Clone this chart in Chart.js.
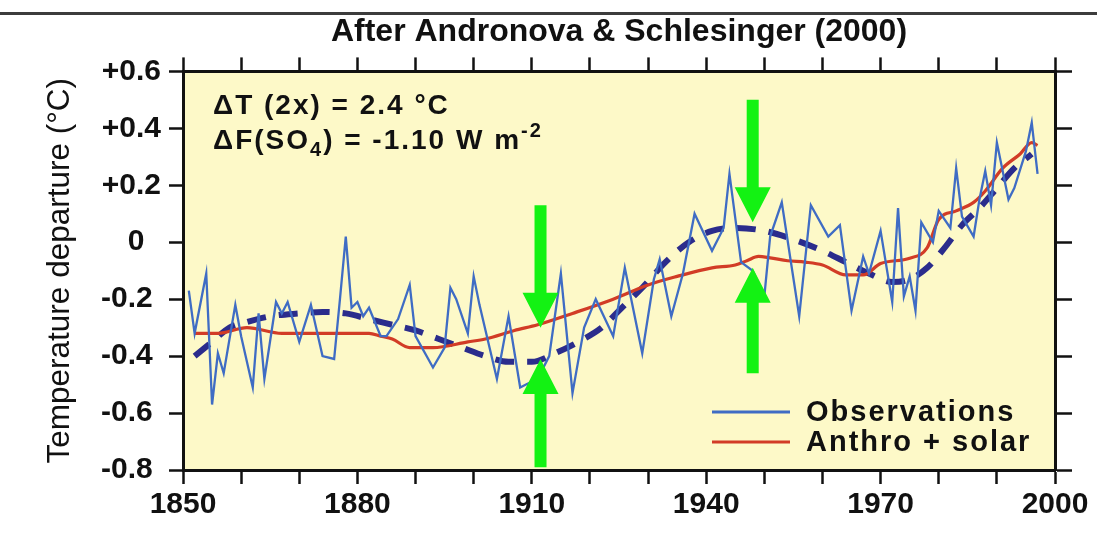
<!DOCTYPE html>
<html>
<head>
<meta charset="utf-8">
<script src="https://cdn.jsdelivr.net/npm/chart.js@4.4.1/dist/chart.umd.min.js"></script>
<style>
  html, body { margin: 0; padding: 0; background: #ffffff; }
  #wrap { width: 1097px; height: 538px; position: relative; }
</style>
</head>
<body>
<div id="wrap"><canvas id="c"></canvas></div>
<script>
// Observed global temperature departures (°C)
const obsYears = [1851,1852,1854,1855,1856,1857,1859,1860,1862,1863,1864,1866,1867,1868,1870,1872,1874,1876,1877,1878,1879,
  1880,1881,1882,1884,1885,1887,1889,1890,1893,1895,1896,1897,1899,1900,1901,1904,1906,1908,1909,1911,1913,1915,1917,1919,
  1921,1924,1926,1929,1931,1932,1934,1936,1938,1941,1943,1944,1946,1948,1950,1951,1953,1956,1958,1961,1963,1965,1967,1968,
  1970,1972,1973,1974,1975,1976,1977,1979,1980,1982,1983,1984,1986,1987,1988,1989,1990,1992,1993,1995,1996,1997];
const obsValues = [-0.17,-0.32,-0.11,-0.57,-0.39,-0.46,-0.22,-0.33,-0.51,-0.25,-0.48,-0.21,-0.25,-0.21,-0.35,-0.22,-0.40,-0.41,-0.20,0.02,-0.23,
  -0.21,-0.26,-0.23,-0.33,-0.33,-0.27,-0.15,-0.33,-0.44,-0.37,-0.16,-0.20,-0.32,-0.12,-0.22,-0.48,-0.26,-0.51,-0.50,-0.48,-0.40,-0.11,-0.53,-0.30,
  -0.20,-0.33,-0.09,-0.39,-0.13,-0.06,-0.26,-0.11,0.10,-0.03,0.05,0.24,-0.07,-0.10,-0.19,0.02,0.14,-0.26,0.13,0.02,0.06,-0.24,-0.05,-0.11,
  0.04,-0.21,0.12,-0.19,-0.12,-0.24,0.07,0.00,0.11,0.05,0.26,0.09,0.02,0.15,0.25,0.13,0.35,0.15,0.19,0.32,0.42,0.24];

// Simulated response: anthropogenic + solar forcing
const modelYears = [1852,1856,1861,1867,1873,1878,1882,1884,1886,1889,1893,1899,1902,1907,1911,1917,1924,1930,1935,1941,1945,
  1947,1949,1951,1954,1957,1960,1964,1967,1970,1975,1978,1980,1983,1986,1988,1991,1994,1996,1997];
const modelValues = [-0.32,-0.32,-0.30,-0.32,-0.32,-0.32,-0.32,-0.33,-0.34,-0.37,-0.37,-0.35,-0.34,-0.31,-0.29,-0.25,-0.20,-0.15,-0.12,-0.09,-0.08,
  -0.065,-0.05,-0.055,-0.065,-0.07,-0.08,-0.115,-0.115,-0.075,-0.056,-0.02,0.08,0.11,0.14,0.18,0.26,0.31,0.35,0.34];

// Smoothed observed trend (dashed)
const trendYears = [1852,1855,1858,1861,1865,1870,1874,1878,1882,1886,1890,1894,1898,1902,1906,1910,1914,1918,1922,1925,1929,
  1933,1937,1941,1945,1950,1955,1960,1964,1968,1972,1975,1978,1981,1984,1987,1990,1993,1996];
const trendValues = [-0.40,-0.35,-0.30,-0.28,-0.26,-0.25,-0.245,-0.25,-0.27,-0.29,-0.31,-0.34,-0.37,-0.40,-0.42,-0.42,-0.39,-0.35,-0.30,-0.24,-0.16,
  -0.07,0.00,0.04,0.05,0.04,0.01,-0.03,-0.07,-0.11,-0.14,-0.13,-0.09,-0.02,0.06,0.12,0.19,0.26,0.31];

const xTickLabels = [1850, 1880, 1910, 1940, 1970, 2000];
const yTickLabels = ['-0.8 ', '-0.6 ', '-0.4 ', '-0.2 ', '0  ', '+0.2', '+0.4', '+0.6'];
const seriesNames = ['Observations', 'Anthro + solar'];

// Highlight arrows: year, start value, tip value
const arrowYears = [1911.5, 1911.5, 1948, 1948];
const arrowFrom = [0.13, -0.79, 0.50, -0.46];
const arrowTo = [-0.30, -0.41, 0.07, -0.09];

const FONT = "'Liberation Sans', Arial, Helvetica, sans-serif";
const INK = '#111111';

const backdrop = {
  id: 'backdrop',
  beforeDraw(chart) {
    const { ctx, chartArea: a, width } = chart;
    ctx.save();
    ctx.fillStyle = '#ffffff';
    ctx.fillRect(0, 0, width, chart.height);
    ctx.fillStyle = '#3c3c3c';
    ctx.fillRect(0, 12, width, 3);
    ctx.fillStyle = '#fdf9c8';
    ctx.fillRect(a.left, a.top, a.right - a.left, a.bottom - a.top);
    ctx.restore();
  }
};

const arrows = {
  id: 'arrows',
  afterDatasetsDraw(chart) {
    const { ctx, scales: { x, y } } = chart;
    ctx.save();
    ctx.fillStyle = '#13f213';
    for (let i = 0; i < arrowYears.length; i++) {
      const px = x.getPixelForValue(arrowYears[i]);
      const y0 = y.getPixelForValue(arrowFrom[i]);
      const y1 = y.getPixelForValue(arrowTo[i]);
      const dir = Math.sign(y1 - y0);
      const headLen = 35, headHalf = 18, shaftHalf = 6;
      const yb = y1 - dir * headLen;
      ctx.beginPath();
      ctx.moveTo(px - shaftHalf, y0);
      ctx.lineTo(px + shaftHalf, y0);
      ctx.lineTo(px + shaftHalf, yb);
      ctx.lineTo(px + headHalf, yb);
      ctx.lineTo(px, y1);
      ctx.lineTo(px - headHalf, yb);
      ctx.lineTo(px - shaftHalf, yb);
      ctx.closePath();
      ctx.fill();
    }
    ctx.restore();
  }
};

const notes = {
  id: 'notes',
  afterDatasetsDraw(chart) {
    const { ctx, chartArea: a } = chart;
    ctx.save();
    ctx.fillStyle = INK;
    ctx.textBaseline = 'alphabetic';
    ctx.textAlign = 'left';
    ctx.letterSpacing = '2px';
    const big = 'bold 28px ' + FONT, small = 'bold 20px ' + FONT;
    let tx = a.left + 30;
    ctx.font = big;
    ctx.fillText('\u0394T (2x) = 2.4 \u00B0C', tx, 114);
    const base2 = 149;
    const parts = [
      ['\u0394F(SO', big, 0], ['4', small, 7], [') = -1.10 W m', big, 0], ['-2', small, -12]
    ];
    for (const [t, f, dy] of parts) {
      ctx.font = f;
      ctx.fillText(t, tx, base2 + dy);
      tx += ctx.measureText(t).width;
    }

    // legend for the two named series
    const ds = chart.data.datasets;
    const rows = [412, 442];
    ctx.font = 'bold 29px ' + FONT;
    ctx.textBaseline = 'middle';
    for (let i = 0; i < 2; i++) {
      ctx.strokeStyle = ds[i].borderColor;
      ctx.lineWidth = 3;
      ctx.beginPath();
      ctx.moveTo(712, rows[i]);
      ctx.lineTo(790, rows[i]);
      ctx.stroke();
      ctx.fillText(ds[i].label, 806, rows[i] + 1);
    }
    ctx.restore();
  }
};

const tickGrid = (len) => ({
  drawOnChartArea: false, drawTicks: true, tickLength: len, tickWidth: 2.5, tickColor: INK, color: INK
});
const axisBorder = { display: true, color: INK, width: 3 };

new Chart(document.getElementById('c'), {
  type: 'line',
  data: {
    datasets: [
      {
        label: seriesNames[0],
        data: obsYears.map((yr, i) => ({ x: yr, y: obsValues[i] })),
        borderColor: '#3f6cc4', borderWidth: 2.3, pointRadius: 0, tension: 0
      },
      {
        label: seriesNames[1],
        data: modelYears.map((yr, i) => ({ x: yr, y: modelValues[i] })),
        borderColor: '#d23c26', borderWidth: 3.2, pointRadius: 0,
        cubicInterpolationMode: 'monotone'
      },
      {
        label: '',
        data: trendYears.map((yr, i) => ({ x: yr, y: trendValues[i] })),
        borderColor: '#2b2c8c', borderWidth: 6, borderDash: [19, 13], borderCapStyle: 'butt',
        pointRadius: 0, cubicInterpolationMode: 'monotone'
      }
    ]
  },
  options: {
    responsive: true,
    maintainAspectRatio: false,
    animation: false,
    layout: { padding: 0 },
    plugins: {
      legend: { display: false },
      tooltip: { enabled: false },
      title: {
        display: true, text: 'After Andronova & Schlesinger (2000)', fullSize: false,
        color: INK, font: { family: FONT, size: 32, weight: 'bold' }, padding: { top: 13, bottom: 0 }
      }
    },
    scales: {
      x: {
        type: 'linear', position: 'bottom', min: 1850, max: 2000,
        ticks: {
          stepSize: 10, autoSkip: false, maxRotation: 0, color: INK, padding: 3,
          font: { family: FONT, size: 30, weight: 'bold' },
          callback: (v) => xTickLabels.includes(Math.round(v)) ? String(Math.round(v)) : ''
        },
        grid: tickGrid(14), border: axisBorder,
        afterFit: (s) => { s.height = 68; }
      },
      x2: {
        type: 'linear', position: 'top', min: 1850, max: 2000,
        ticks: { display: false, stepSize: 10, autoSkip: false },
        grid: tickGrid(14), border: axisBorder,
        afterFit: (s) => { s.height = 20; }
      },
      y: {
        position: 'left', min: -0.8, max: 0.6,
        ticks: {
          stepSize: 0.2, autoSkip: false, color: INK, padding: 8,
          font: { family: FONT, size: 30, weight: 'bold' },
          callback: (v, i) => yTickLabels[i]
        },
        title: {
          display: true, text: 'Temperature departure (\u00B0C)', color: INK,
          font: { family: FONT, size: 31.5 }, padding: { top: 41, bottom: 0 }
        },
        grid: tickGrid(14), border: axisBorder,
        afterFit: (s) => { s.width = 183; }
      },
      y2: {
        position: 'right', min: -0.8, max: 0.6,
        ticks: { display: false, stepSize: 0.2 },
        grid: tickGrid(17), border: axisBorder,
        afterFit: (s) => { s.width = 42; }
      }
    }
  },
  plugins: [backdrop, arrows, notes]
});
</script>
</body>
</html>
